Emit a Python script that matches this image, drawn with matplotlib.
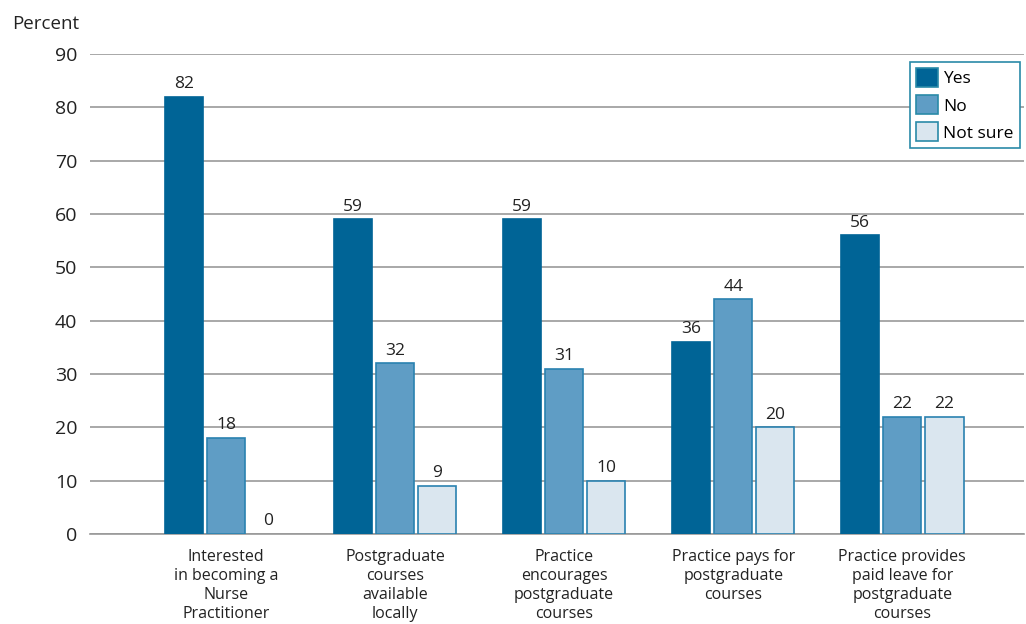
import numpy as np
import matplotlib.pyplot as plt

plt.rcParams['font.family'] = ['Open Sans', 'DejaVu Sans']

categories = ["Interested\nin becoming a\nNurse\nPractitioner",
              "Postgraduate\ncourses\navailable\nlocally",
              "Practice\nencourages\npostgraduate\ncourses",
              "Practice pays for\npostgraduate\ncourses",
              "Practice provides\npaid leave for\npostgraduate\ncourses"]
yes = [82, 59, 59, 36, 56]
no = [18, 32, 31, 44, 22]
not_sure = [0, 9, 10, 20, 22]
series_names = ["Yes", "No", "Not sure"]

colors = ["#006496", "#5f9dc5", "#dae6ef"]
edges = ["#006496", "#2a82b0", "#2a82b0"]

fig = plt.figure(figsize=(10.26, 6.24), dpi=100)
ax = fig.add_axes([0.0877, 0.1442, 0.9103, 0.7693])

x = np.arange(len(categories))
w = 0.225
step = 0.25
for i, (vals, name) in enumerate(zip([yes, no, not_sure], series_names)):
    pos = x + (i - 1) * step
    lws = [1.2 if v > 0 else 0 for v in vals]
    ax.bar(pos, vals, w, color=colors[i], edgecolor=edges[i],
           linewidth=lws, label=name, zorder=3)
    for p, v in zip(pos, vals):
        ax.text(p, v + 0.9, str(v), ha="center", va="bottom", fontsize=12.5,
                color="#222222")

ax.set_ylim(0, 90)
ax.set_xlim(-0.805, 4.72)
ax.set_yticks(range(0, 91, 10))
ax.yaxis.grid(True, color="#999999", linewidth=1.2, zorder=0)
ax.set_axisbelow(True)
ax.tick_params(axis="y", length=0, labelsize=14, pad=9, colors="#222222")
ax.tick_params(axis="x", length=0, labelsize=11.5, pad=11, colors="#222222")
ax.set_xticks(x)
ax.set_xticklabels(categories, linespacing=1.25, va="top")
for s in ["top", "right", "left"]:
    ax.spines[s].set_visible(False)
ax.spines["bottom"].set_color("#999999")
ax.spines["bottom"].set_linewidth(1.2)

fig.text(0.012, 0.962, "Percent", fontsize=13.5, va="center", ha="left",
         color="#222222")

leg = ax.legend(loc="upper right", bbox_to_anchor=(0.9957, 0.983),
                fontsize=12.5, frameon=True, fancybox=False,
                handlelength=1.3, handleheight=1.3, handletextpad=0.3,
                labelspacing=0.45, borderpad=0.35, borderaxespad=0)
leg.get_frame().set_edgecolor("#2a8aa8")
leg.get_frame().set_linewidth(1.2)
leg.get_frame().set_alpha(1)
for h in leg.legend_handles:
    h.set_edgecolor("#2a8aa8")
    h.set_linewidth(1.2)

fig.savefig("out.png", dpi=100)
